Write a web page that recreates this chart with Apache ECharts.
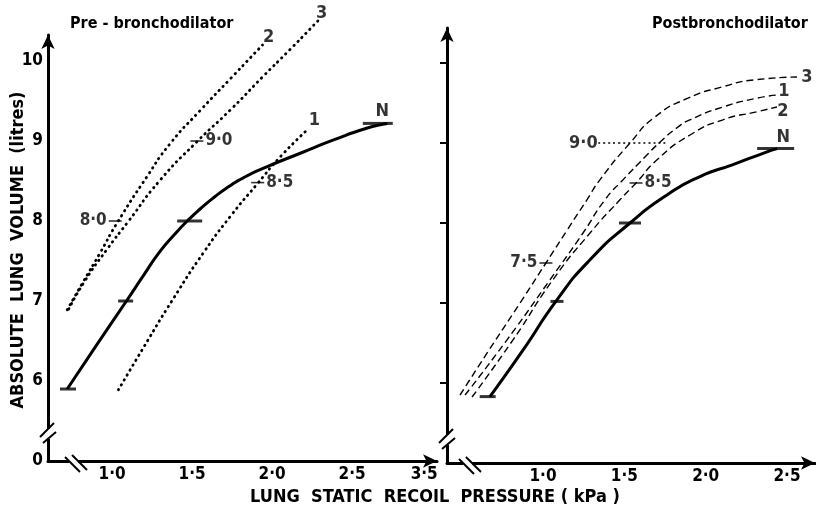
<!DOCTYPE html>
<html>
<head>
<meta charset="utf-8">
<script src="https://cdn.jsdelivr.net/npm/echarts@6/dist/echarts.min.js"></script>
<style>
  html, body { margin: 0; padding: 0; background: #fff; }
  #chart { width: 816px; height: 514px; }
</style>
</head>
<body>
<div id="chart"></div>
<script>
// ---- data: [pressure kPa, volume litres] ----
// pre-bronchodilator
var preN = [[0.72, 5.90], [0.90, 6.44], [1.09, 7.00], [1.20, 7.33], [1.30, 7.62], [1.39, 7.83], [1.47, 8.00], [1.55, 8.15],
            [1.64, 8.30], [1.73, 8.43], [1.82, 8.54], [1.97, 8.68], [2.18, 8.85], [2.38, 9.01], [2.59, 9.16], [2.72, 9.22]];
var pre1 = [[1.04, 5.89], [1.20, 6.43], [1.38, 7.02], [1.57, 7.60], [1.74, 8.06], [1.91, 8.47], [2.05, 8.80], [2.22, 9.14]];
var pre2 = [[0.72, 6.89], [0.82, 7.24], [0.925, 7.60], [1.03, 7.97], [1.22, 8.56], [1.36, 8.96], [1.55, 9.38], [1.74, 9.78], [1.94, 10.20]];
var pre3 = [[0.73, 6.90], [0.83, 7.25], [0.97, 7.65], [1.10, 7.99], [1.30, 8.51], [1.53, 8.99], [1.74, 9.39], [1.94, 9.80], [2.11, 10.14], [2.29, 10.51]];
var preBars = [[0.725, 5.90], [1.085, 7.00], [1.485, 8.00], [2.66, 9.22]];
var preNotes = [[1.02, 8.0], [1.53, 9.0], [1.91, 8.48]];
var preNoteText = ['8·0', '9·0', '8·5'];

// post-bronchodilator
var postN = [[0.674, 5.83], [0.877, 6.41], [1.086, 7.04], [1.289, 7.54], [1.535, 8.00], [1.762, 8.35],
             [1.965, 8.58], [2.168, 8.73], [2.377, 8.89], [2.44, 8.93]];
var post1 = [[0.521, 5.85], [0.779, 6.54], [1.043, 7.29], [1.246, 7.875], [1.381, 8.29], [1.492, 8.54], [1.627, 8.825],
             [1.719, 9.01], [1.824, 9.19], [1.904, 9.29], [2.106, 9.45], [2.315, 9.56], [2.444, 9.60]];
var post2 = [[0.564, 5.825], [0.816, 6.54], [1.061, 7.29], [1.289, 7.875], [1.473, 8.29], [1.572, 8.5], [1.701, 8.79],
             [1.904, 9.10], [2.106, 9.29], [2.315, 9.39], [2.438, 9.45]];
var post3 = [[0.49, 5.85], [0.668, 6.41], [0.859, 7.0], [1.018, 7.5], [1.148, 7.91], [1.27, 8.29], [1.35, 8.54],
             [1.535, 9.0], [1.688, 9.325], [1.891, 9.56], [2.10, 9.70], [2.303, 9.79], [2.561, 9.825]];
var postBars = [[0.66, 5.83], [1.086, 7.02], [1.535, 8.00], [2.43, 8.93]];
var postNotes = [[1.018, 7.5], [1.572, 8.5]];
var postNoteText = ['7·5', '8·5'];
var postRef90 = [[1.34, 9.0], [1.77, 9.0]];

// axes
var yTicks = [5, 6, 7, 8, 9, 10];
var preXTicks = [1.0, 1.5, 2.0, 2.5, 2.95];
var preXLabels = ['1·0', '1·5', '2·0', '2·5', '3·5'];
var postXTicks = [1.0, 1.5, 2.0, 2.5];
var postXLabels = ['1·0', '1·5', '2·0', '2·5'];

// ---- styling ----
var FONT = '"Liberation Sans Narrow","DejaVu Sans Condensed","Liberation Sans",Arial,sans-serif';
var preBarW = [16, 15, 25, 30];
var postBarW = [16, 13, 22, 37];

var chart = echarts.init(document.getElementById('chart'));

function txt(size) {
  return { color: '#000', fontFamily: FONT, fontWeight: 'bold', fontSize: size || 17 };
}

function axisX(gi, min, max, ticks, labels) {
  return {
    type: 'value', gridIndex: gi, min: min, max: max,
    axisLine: { lineStyle: { color: '#000', width: 3 }, symbol: ['none', 'arrow'], symbolSize: [10, 14] },
    axisTick: { show: false },
    splitLine: { show: false },
    axisLabel: Object.assign(txt(17), {
      customValues: ticks, margin: 5,
      formatter: function (v) { var i = ticks.indexOf(v); return i < 0 ? '' : labels[i]; }
    })
  };
}

function axisY(gi, max, showLabels) {
  return {
    type: 'value', gridIndex: gi, min: 5, max: max,
    axisLine: { lineStyle: { color: '#000', width: 3 }, symbol: ['none', 'arrow'], symbolSize: [10, 14] },
    axisTick: { show: !showLabels, customValues: yTicks.slice(1), length: 7, lineStyle: { color: '#000', width: 2 } },
    splitLine: { show: false },
    axisLabel: Object.assign(txt(17), {
      show: showLabels, customValues: yTicks, margin: 5,
      formatter: function (v) { return v === 5 ? '0' : String(v); }
    })
  };
}

function curve(gi, data, style) {
  return {
    type: 'line', xAxisIndex: gi, yAxisIndex: gi, data: data,
    smooth: 0.6, showSymbol: false, clip: false, silent: true,
    lineStyle: Object.assign({ color: '#000' }, style)
  };
}

function bars(gi, data, widths) {
  return {
    type: 'scatter', xAxisIndex: gi, yAxisIndex: gi, data: data, symbol: 'rect', silent: true, clip: false,
    symbolSize: function (v, p) { return [widths[p.dataIndex], 3]; },
    itemStyle: { color: '#000' }
  };
}

function notes(gi, data, texts, sides) {
  return {
    type: 'scatter', xAxisIndex: gi, yAxisIndex: gi, symbol: 'rect', symbolSize: [13, 1.6], silent: true, clip: false,
    itemStyle: { color: '#000' },
    data: data.map(function (d, i) {
      return { value: d, label: Object.assign(txt(17), { show: true, formatter: texts[i], position: sides[i], distance: 2 }) };
    })
  };
}

function tags(gi, items) {
  return {
    type: 'scatter', xAxisIndex: gi, yAxisIndex: gi, symbolSize: 1, silent: true, clip: false,
    itemStyle: { color: 'rgba(0,0,0,0)' },
    data: items.map(function (it) {
      return { value: it[0], label: Object.assign(txt(18), { show: true, formatter: it[1], position: 'inside', offset: it[2] }) };
    })
  };
}

function last(a) { return a[a.length - 1]; }

var dotted = { type: [0.5, 5.2], width: 2.8, cap: 'round' };
var dashed = { type: [7, 4], width: 1.4 };

chart.setOption({
  animation: false,
  backgroundColor: '#fff',
  grid: [
    { left: 48, top: 35, width: 389, height: 426 },
    { left: 447, top: 28, width: 368, height: 435 }
  ],
  xAxis: [
    axisX(0, 0.6, 3.03, preXTicks, preXLabels),
    axisX(1, 0.41, 2.672, postXTicks, postXLabels)
  ],
  yAxis: [
    axisY(0, 10.325, true),
    axisY(1, 10.4375, false)
  ],
  series: [
    curve(0, preN, { width: 3 }),
    curve(0, pre1, dotted),
    curve(0, pre2, dotted),
    curve(0, pre3, dotted),
    bars(0, preBars, preBarW),
    notes(0, preNotes, preNoteText, ['left', 'right', 'right']),
    tags(0, [[last(pre1), '1', [7, -9]], [last(pre2), '2', [6, -8]], [last(pre3), '3', [3, -7]], [last(preN), 'N', [-5, -12]]]),

    curve(1, postN, { width: 3 }),
    curve(1, post1, dashed),
    curve(1, post2, dashed),
    curve(1, post3, dashed),
    curve(1, postRef90, { type: [2, 3], width: 1.6 }),
    bars(1, postBars, postBarW),
    notes(1, postNotes, postNoteText, ['left', 'right']),
    tags(1, [[last(post1), '1', [6, -4]], [last(post2), '2', [6, 4]], [last(post3), '3', [10, 0]], [last(postN), 'N', [6, -11]],
             [postRef90[0], '9·0', [-15, 0]]])
  ]
});

// titles and axis break marks (breaks placed from the axis corners)
function breakMarks(gi, xmin, dy, dx) {
  var o = chart.convertToPixel({ gridIndex: gi }, [xmin, 5]);
  var cy = o[1] - dy, cx = o[0] + dx;
  var ls = { stroke: '#000', lineWidth: 2 };
  return [
    { type: 'rect', shape: { x: o[0] - 3, y: cy - 4, width: 6, height: 10 }, style: { fill: '#fff' }, z: 100 },
    { type: 'line', shape: { x1: o[0] - 8, y1: cy + 4, x2: o[0] + 6, y2: cy - 10 }, style: ls, z: 101 },
    { type: 'line', shape: { x1: o[0] - 5, y1: cy + 10, x2: o[0] + 8, y2: cy - 1 }, style: ls, z: 101 },
    { type: 'rect', shape: { x: cx - 7, y: o[1] - 3, width: 9, height: 6 }, style: { fill: '#fff' }, z: 100 },
    { type: 'line', shape: { x1: cx - 11, y1: o[1] - 4, x2: cx + 4, y2: o[1] + 11 }, style: ls, z: 101 },
    { type: 'line', shape: { x1: cx - 4, y1: o[1] - 6, x2: cx + 11, y2: o[1] + 9 }, style: ls, z: 101 }
  ];
}

var titles = [
  { type: 'text', x: 70, y: 24, style: { text: 'Pre - bronchodilator', fill: '#000', font: 'bold 16px ' + FONT, textVerticalAlign: 'middle' } },
  { type: 'text', x: 652, y: 24, style: { text: 'Postbronchodilator', fill: '#000', font: 'bold 16px ' + FONT, textVerticalAlign: 'middle' } },
  { type: 'text', x: 435, y: 497, style: { text: 'LUNG  STATIC  RECOIL  PRESSURE ( kPa )', fill: '#000', font: 'bold 18px ' + FONT, textAlign: 'center', textVerticalAlign: 'middle' } },
  { type: 'text', x: 18, y: 250, rotation: Math.PI / 2, style: { text: 'ABSOLUTE  LUNG  VOLUME  (litres)', fill: '#000', font: 'bold 18px ' + FONT, textAlign: 'center', textVerticalAlign: 'middle' } }
];

chart.setOption({
  graphic: titles.concat(breakMarks(0, 0.6, 28, 28), breakMarks(1, 0.41, 24, 23))
});
</script>
</body>
</html>
